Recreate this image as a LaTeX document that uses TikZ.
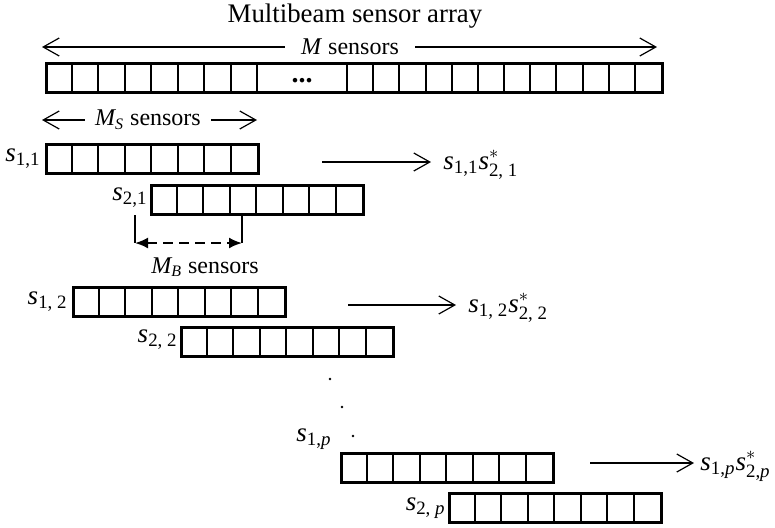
\documentclass[tikz,border=0pt]{standalone}
\usepackage{fontspec}
\setmainfont{Liberation Serif}
\usepackage{amsmath}
\usetikzlibrary{arrows.meta,calc,positioning}

\begin{document}
\begin{tikzpicture}[x=0.5pt, y=-0.5pt,
    cellrow/.style={rectangle, draw, line width=1.4pt, minimum width=#1*13.25pt, minimum height=14.5pt, inner sep=0pt, anchor=north west},
    divider/.style={line width=1pt},
    arr/.style={-{Straight Barb[length=8pt,width=9pt]}, line width=0.6pt},
    lab/.style={inner sep=0pt, font=\fontsize{13.5}{15}\selectfont},
    txt/.style={inner sep=0pt, font=\fontsize{12}{14}\selectfont}]
    \useasboundingbox (0,0) rectangle (775,527);
    \node[font=\fontsize{13.4}{16}\selectfont] (title) at (355,16) {Multibeam sensor array};
    % whole array
    \node[txt, inner xsep=8pt] (mlab) at (350,47) {\textit{M} sensors};
    \coordinate (mL) at (42,47);
    \coordinate (mR) at (657,47);
    \draw[arr] (mlab) -- (mL);
    \draw[arr] (mlab) -- (mR);
    \node[cellrow=8, minimum width=308pt] (all) at (45,62) {};
    \foreach \i in {1,...,8}
        \draw[divider] ($(all.north west)+(\i*26.5,0)$) -- ++(0,29);
    \foreach \j in {0,...,11}
        \draw[divider] ($(all.north west)+(302+\j*26.17,0)$) -- ++(0,29);
    \node[inner sep=0pt, anchor=base, font=\fontsize{14}{16}\bfseries] (dots) at (302,82) {...};
    % subarray width
    \node[txt, inner xsep=5pt] (mslab) at (148,120) {$\textit{M}_{\textit{S}}$ sensors};
    \coordinate (msL) at (42,120);
    \coordinate (msR) at (257,120);
    \draw[arr] (mslab) -- (msL);
    \draw[arr] (mslab) -- (msR);
    % subarray pairs
    \node[cellrow=8] (s11) at (45,143) {};
    \node[cellrow=8] (s21) at (150,184) {};
    \node[cellrow=8] (s12) at (72,286) {};
    \node[cellrow=8] (s22) at (180,326) {};
    \node[cellrow=8] (s1p) at (340,452) {};
    \node[cellrow=8] (s2p) at (448,492) {};
    \foreach \r in {s11,s21,s12,s22,s1p,s2p}
        \foreach \i in {1,...,7}
            \draw[divider] ($(\r.north west)+(\i*26.5,0)$) -- ++(0,29);
    \node[lab, left=2pt of s11] (l11) {$\textit{s}_{\text{1,1}}$};
    \node[lab, left=1pt of s21, yshift=1pt] (l21) {$\textit{s}_{\text{2,1}}$};
    \node[lab, left=2pt of s12] (l12) {$\textit{s}_{\text{1, 2}}$};
    \node[lab, left=1pt of s22, yshift=1pt] (l22) {$\textit{s}_{\text{2, 2}}$};
    \node[lab, anchor=south east] (l1p) at ($(s1p.north west)+(-8,-2)$) {$\textit{s}_{\text{1,}\textit{p}}$};
    \node[lab, left=1pt of s2p] (l2p) {$\textit{s}_{\text{2, }\textit{p}}$};
    % overlap
    \coordinate (b1) at (135,215);
    \coordinate (b2) at (242,215);
    \coordinate (mb1) at (135,243);
    \coordinate (mb2) at (242,243);
    \draw[line width=0.8pt] (b1) -- (mb1);
    \draw[line width=0.8pt] (b2) -- (mb2);
    \draw[line width=1pt, dash pattern=on 5pt off 3pt, {Latex[length=6.5pt,width=5.5pt]}-{Latex[length=6.5pt,width=5.5pt]}] (mb1) -- (mb2);
    \node[txt] (mblab) at (205,267) {$\textit{M}_{\textit{B}}$ sensors};
    % correlation outputs
    \node[lab, anchor=base west] (p1) at (443,169) {$\textit{s}_{\text{1,1}}\textit{s}^{*}_{\text{2, 1}}$};
    \node[lab, anchor=base west] (p2) at (468,312) {$\textit{s}_{\text{1, 2}}\textit{s}^{*}_{\text{2, 2}}$};
    \node[lab, anchor=base west] (pp) at (700,470) {$\textit{s}_{\text{1,}\textit{p}}\textit{s}^{*}_{\text{2,}\textit{p}}$};
    \coordinate (a1) at (322,162);
    \coordinate (a2) at (348,305);
    \coordinate (ap) at (590,463);
    \draw[arr, shorten >=6pt] (a1) -- (a1 -| p1.west);
    \draw[arr, shorten >=6pt] (a2) -- (a2 -| p2.west);
    \draw[arr, shorten >=3pt] (ap) -- (ap -| pp.west);
    % continuation dots
    \foreach \p in {(330,379),(342,407),(353,436)}
        \fill \p circle (0.7pt);
\end{tikzpicture}
\end{document}
